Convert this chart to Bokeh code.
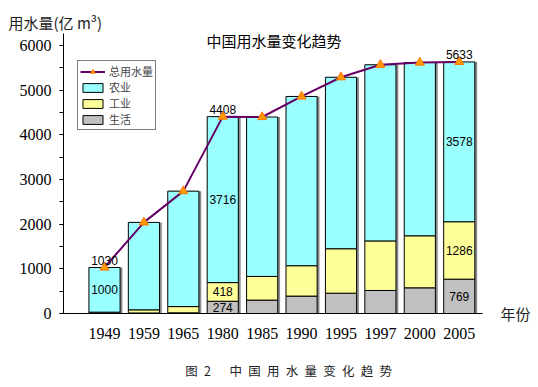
import numpy as np
from bokeh.plotting import figure
from bokeh.models import (Range1d, FixedTicker, SingleIntervalTicker, LinearAxis,
                          Legend, LegendItem, Label, Title)
from bokeh.core.properties import value
from bokeh.embed import file_html
from bokeh.resources import INLINE

# ---- data ----
years = ["1949", "1959", "1965", "1980", "1985", "1990", "1995", "1997", "2000", "2005"]
agri = [1000, 1958, 2585, 3716, 3570, 3790, 3840, 3945, 3880, 3578]   # 农业
indu = [24, 70, 140, 418, 530, 680, 995, 1110, 1165, 1286]            # 工业
dome = [6, 12, 15, 274, 300, 390, 455, 515, 575, 769]                 # 生活
total = [1030, 2040, 2740, 4408, 4400, 4860, 5290, 5570, 5620, 5633]  # 总用水量

total_label_years = ["1949", "1980", "2005"]
agri_label_years = ["1949", "1980", "2005"]
indu_label_years = ["1980", "2005"]
dome_label_years = ["1980", "2005"]

title_text = "中国用水量变化趋势"
ylab_text = "用水量(亿 m³)"
xlab_text = "年份"
SP = "\u2002"
caption_text = SP * 5 + "图" + SP + "2" + SP * 3 + SP.join("中国用水量变化趋势")

# ---- derived ----
xs = np.arange(len(years))
agri_a, indu_a, dome_a = np.array(agri), np.array(indu), np.array(dome)
stack_top = dome_a + indu_a + agri_a

CJK = "Noto Sans CJK SC"
SERIF = "Liberation Serif"
SANS = "Liberation Sans"

p = figure(width=538, height=387, output_backend="svg", toolbar_location=None,
           x_range=Range1d(-1.04, 9.59), y_range=Range1d(0, 6270),
           min_border_left=63, min_border_right=56, min_border_top=33,
           min_border_bottom=74)
p.outline_line_color = None
p.grid.visible = False
p.background_fill_color = "white"

W = 0.79
# shadow
p.vbar(x=xs + 0.06, top=stack_top, width=W, fill_color="#8c8c8c", line_color=None)
# stacked bars
r_d = p.vbar(x=xs, bottom=0, top=dome_a, width=W, fill_color="#C0C0C0", line_color="black", line_width=1)
r_i = p.vbar(x=xs, bottom=dome_a, top=dome_a + indu_a, width=W, fill_color="#FFFF99", line_color="black", line_width=1)
r_a = p.vbar(x=xs, bottom=dome_a + indu_a, top=stack_top, width=W, fill_color="#99FFFF", line_color="black", line_width=1)

# total line
r_l = p.line(x=xs, y=total, line_color="#660066", line_width=2)
r_m = p.scatter(x=xs, y=total, marker="triangle", size=9, fill_color="#FF9900", line_color="#FF7700")

# value labels
def idx(ylist):
    return [years.index(y) for y in ylist]

def lbl(ix, ys, txt, **kw):
    p.text(x=xs[ix], y=ys, text=txt, text_align="center",
           text_font=value(SANS), text_font_size="12px", text_color="black", **kw)

ti = idx(total_label_years)
lbl(ti, [total[i] for i in ti], [str(total[i]) for i in ti], text_baseline="bottom", y_offset=-3)
ai = idx(agri_label_years)
lbl(ai, [dome[i] + indu[i] + agri[i] / 2 for i in ai], [str(agri[i]) for i in ai], text_baseline="middle")
ii = idx(indu_label_years)
lbl(ii, [dome[i] + indu[i] / 2 for i in ii], [str(indu[i]) for i in ii], text_baseline="middle")
di = idx(dome_label_years)
lbl(di, [dome[i] / 2 for i in di], [str(dome[i]) for i in di], text_baseline="middle")

# axes
xa = p.xaxis[0]
xa.ticker = FixedTicker(ticks=list(xs))
xa.major_label_overrides = {int(i): y for i, y in zip(xs, years)}
xa.bounds = (-1.17, 9.59)
xa.major_tick_out = 0
xa.major_tick_in = 0
xa.minor_tick_out = 0
xa.major_label_standoff = 14
xa.major_label_text_font = SERIF
xa.major_label_text_font_size = "16px"
xa.major_label_text_color = "black"
xa.axis_line_color = "black"
# figure caption as the x axis label
xa.axis_label = caption_text
xa.axis_label_standoff = 19
xa.axis_label_text_font = CJK
xa.axis_label_text_font_size = "12.5px"
xa.axis_label_text_font_style = "normal"
xa.axis_label_text_color = "#222222"

ya = p.yaxis[0]
ya.ticker = SingleIntervalTicker(interval=1000, num_minor_ticks=2)
ya.major_tick_out = 4
ya.major_tick_in = 0
ya.minor_tick_out = 4
ya.minor_tick_in = 0
ya.major_label_standoff = 8
ya.major_label_text_font = SERIF
ya.major_label_text_font_size = "16px"
ya.major_label_text_color = "black"
ya.axis_line_color = "black"

# "年份" beside the x axis, as a right-hand axis label at y = 0
ra = LinearAxis(ticker=FixedTicker(ticks=[0]), major_label_overrides={0: xlab_text})
ra.axis_line_color = None
ra.major_tick_out = 0
ra.major_tick_in = 0
ra.minor_tick_out = 0
ra.minor_tick_in = 0
ra.major_label_standoff = 18
ra.major_label_text_font = CJK
ra.major_label_text_font_size = "15px"
ra.major_label_text_color = "#222222"
p.add_layout(ra, "right")

# legend
legend = Legend(items=[
    LegendItem(label="总用水量", renderers=[r_l, r_m]),
    LegendItem(label="农业", renderers=[r_a]),
    LegendItem(label="工业", renderers=[r_i]),
    LegendItem(label="生活", renderers=[r_d]),
], location=(14, 183))
legend.label_text_font = CJK
legend.label_text_font_size = "11px"
legend.label_text_line_height = 1.0
legend.glyph_width = 25
legend.glyph_height = 11
legend.label_height = 11
legend.label_standoff = 4
legend.spacing = 0
legend.padding = 2
legend.margin = 0
legend.border_line_color = "black"
legend.border_line_width = 1
legend.background_fill_color = "white"
p.add_layout(legend, "center")

# texts
p.add_layout(Label(x=143, y=273, x_units="screen", y_units="screen", text=title_text,
                   text_align="left", text_baseline="middle",
                   text_font=CJK, text_font_size="15px", text_color="black"))
p.add_layout(Title(text=ylab_text, align="left", offset=-55, standoff=2,
                   text_font=CJK, text_font_size="15px", text_font_style="normal",
                   text_color="#222222"), "above")

open("out.html", "w").write(file_html(p, INLINE))
